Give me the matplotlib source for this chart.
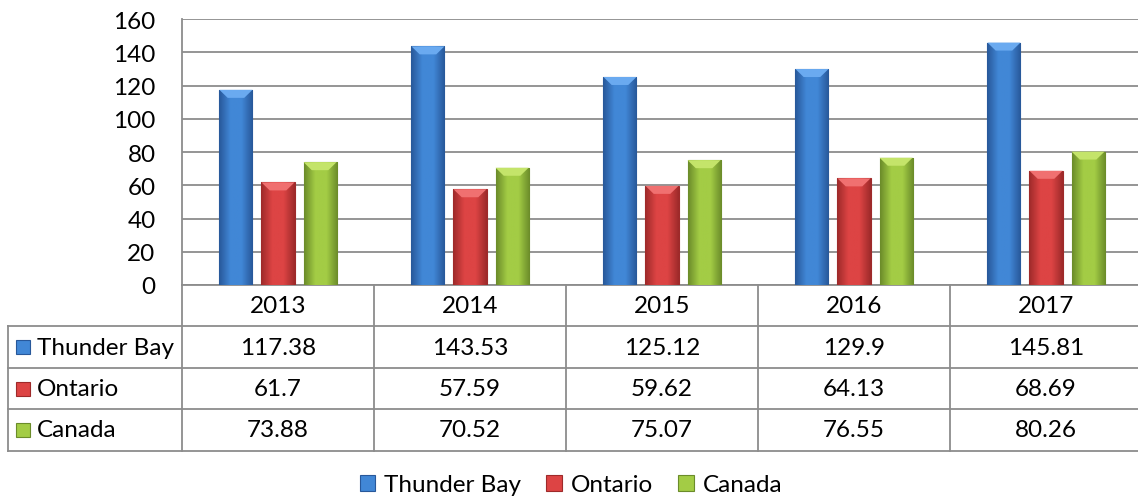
import numpy as np
import matplotlib
matplotlib.use('Agg')
import matplotlib.pyplot as plt
from matplotlib.colors import LinearSegmentedColormap
from matplotlib.patches import Rectangle, Polygon

plt.rcParams['font.family'] = ['Lato', 'DejaVu Sans']

# data
years = ['2013', '2014', '2015', '2016', '2017']
series_names = ['Thunder Bay', 'Ontario', 'Canada']
thunder_bay = [117.38, 143.53, 125.12, 129.9, 145.81]
ontario = [61.7, 57.59, 59.62, 64.13, 68.69]
canada = [73.88, 70.52, 75.07, 76.55, 80.26]
values = [thunder_bay, ontario, canada]

# (dark edge, light centre, bevel highlight) for each series
shades = [('#28589a', '#4187d6', '#6aaaf0'),
          ('#9e2a2a', '#dd4444', '#f07070'),
          ('#6b8c2a', '#a3cc45', '#c4e46a')]

W, H = 1138, 502
fig = plt.figure(figsize=(W / 100, H / 100), dpi=100)

# plot area in pixels
left, right, top, bottom = 182, 1142, 20, 286
ax = fig.add_axes([left / W, 1 - bottom / H, (right - left) / W, (bottom - top) / H])

grey = '#8c8c8c'
fs = 17.5

x = np.arange(len(years))
bw = 0.172
step = 0.219
bev_x = bw * 0.25
bev_y = 160 * 8 / (bottom - top)
for i, vals in enumerate(values):
    bars = ax.bar(x + (i - 1) * step, vals, width=bw, color=shades[i][1],
                  edgecolor=shades[i][0], linewidth=0.8, zorder=3)
    cmap = LinearSegmentedColormap.from_list('s%d' % i, [shades[i][0], shades[i][1], shades[i][1], shades[i][0]])
    grad = np.linspace(0, 1, 64).reshape(1, -1)
    for b in bars:
        bx, by = b.get_x(), b.get_y()
        bh = b.get_height()
        im = ax.imshow(grad, cmap=cmap, aspect='auto', zorder=3.5,
                       extent=[bx, bx + bw, by, by + bh])
        im.set_clip_path(b)
        # top bevel
        ax.add_patch(Polygon([(bx, by + bh), (bx + bw, by + bh),
                              (bx + bw - bev_x, by + bh - bev_y), (bx + bev_x, by + bh - bev_y)],
                             closed=True, facecolor=shades[i][2], edgecolor='none', zorder=4))

ax.set_xlim(-0.5, len(years) - 0.5)
ax.set_ylim(0, 160)
ax.set_yticks(np.arange(0, 161, 20))
ax.set_xticks([])
ax.tick_params(axis='y', length=0, labelsize=fs, pad=19)
ax.yaxis.grid(True, color=grey, linewidth=1.3, zorder=0)
for s in ['top', 'right']:
    ax.spines[s].set_visible(False)
for s in ['left', 'bottom']:
    ax.spines[s].set_color(grey)
    ax.spines[s].set_linewidth(1.3)

# data table under the axis, drawn in pixel coords
def px(xp, yp):
    return xp / W, 1 - yp / H

col_w = (right - left) / len(years)
row_h = 41.4
table_left = 8
rows_top = bottom + row_h
n_rows = len(series_names)

def hline(y, x0, x1):
    fig.add_artist(plt.Line2D([x0 / W, x1 / W], [1 - y / H, 1 - y / H], color=grey, lw=1.3))

def vline(xp, y0, y1):
    fig.add_artist(plt.Line2D([xp / W, xp / W], [1 - y0 / H, 1 - y1 / H], color=grey, lw=1.3))

for r in range(n_rows + 1):
    hline(rows_top + r * row_h, table_left, right)
vline(table_left, rows_top, rows_top + n_rows * row_h)
for c in range(len(years) + 1):
    vline(left + c * col_w, bottom, rows_top + n_rows * row_h)

for c, yr in enumerate(years):
    fig.text(*px(left + (c + 0.5) * col_w, bottom + row_h / 2), yr, fontsize=fs,
             ha='center', va='center')
for r, name in enumerate(series_names):
    yc = rows_top + (r + 0.5) * row_h
    fig.patches.append(Rectangle(px(16, yc + 7), 14 / W, 14 / H, transform=fig.transFigure,
                                 facecolor=shades[r][1], edgecolor=shades[r][0], lw=0.8))
    fig.text(*px(37, yc), name, fontsize=fs, ha='left', va='center')
    for c in range(len(years)):
        v = values[r][c]
        fig.text(*px(left + (c + 0.5) * col_w, yc), '%g' % v, fontsize=fs,
                 ha='center', va='center')

# legend at the bottom
handles = [Rectangle((0, 0), 1, 1, facecolor=shades[i][1], edgecolor=shades[i][0], lw=0.8)
           for i in range(len(series_names))]
fig.legend(handles, series_names, loc='center', bbox_to_anchor=(571 / W, 1 - 486 / H),
           ncol=3, frameon=False, fontsize=fs, handlelength=0.65, handleheight=0.65,
           handletextpad=0.35, columnspacing=1.05)

fig.savefig('out.png', dpi=100)
